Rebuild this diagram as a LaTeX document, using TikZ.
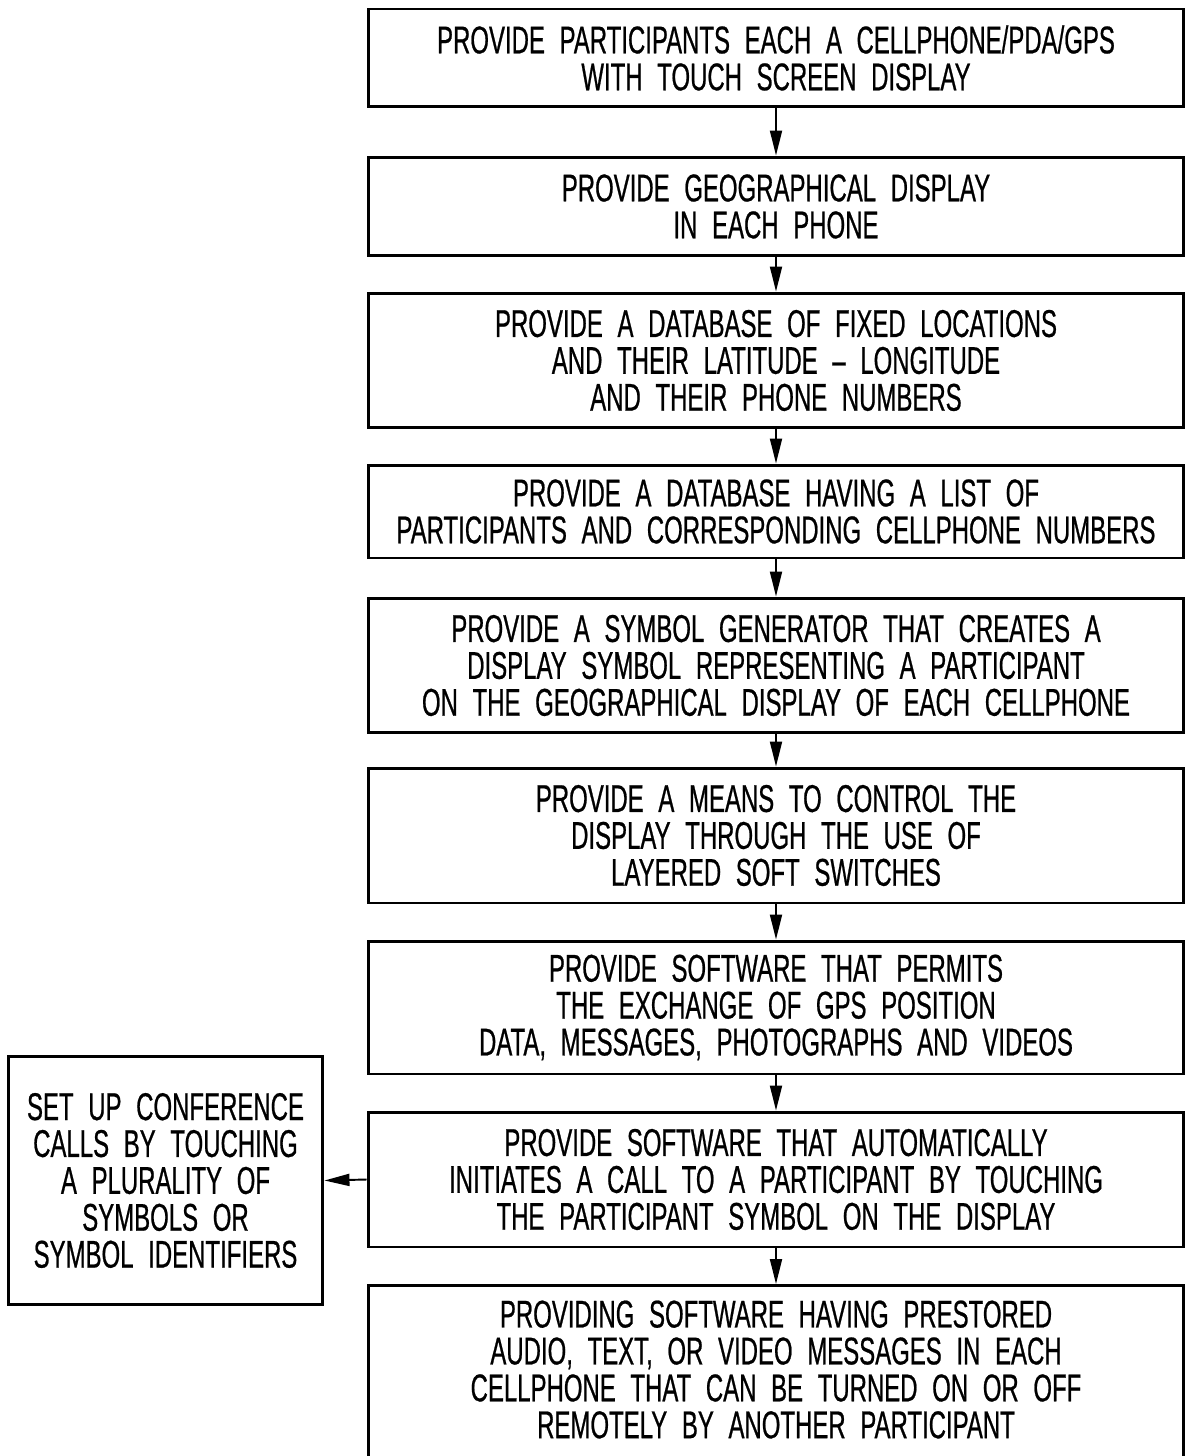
\documentclass[tikz,border=0pt]{standalone}
\usepackage{fontspec}
\setmainfont[FakeStretch=0.62,WordSpace=2.2,FakeBold=0.6]{Liberation Sans}
\usetikzlibrary{arrows.meta, positioning}

\tikzset{
  stepbox/.style={draw, line width=1.7pt, minimum width=16.32cm, align=center,
    inner sep=0pt, font=\fontsize{22}{21}\selectfont},
  sidebox/.style={stepbox, minimum width=6.3cm},
  flow/.style={-{Triangle[length=0.5cm,width=0.24cm]}, line width=1.1pt}
}

\begin{document}
\begin{tikzpicture}[x=0.02cm, y=-0.02cm]

\useasboundingbox (0,0) rectangle (1187,1456);

\node[stepbox, minimum height=1.96cm] (phones) at (776,58)
  {PROVIDE PARTICIPANTS EACH A CELLPHONE/PDA/GPS\\WITH TOUCH SCREEN DISPLAY};
\node[stepbox, minimum height=1.98cm] (geo) at (776,206.5)
  {PROVIDE GEOGRAPHICAL DISPLAY\\IN EACH PHONE};
\node[stepbox, minimum height=2.7cm] (fixed) at (776,360.5)
  {PROVIDE A DATABASE OF FIXED LOCATIONS\\AND THEIR LATITUDE – LONGITUDE\\AND THEIR PHONE NUMBERS};
\node[stepbox, minimum height=1.86cm] (list) at (776,511.5)
  {PROVIDE A DATABASE HAVING A LIST OF\\PARTICIPANTS AND CORRESPONDING CELLPHONE NUMBERS};
\node[stepbox, minimum height=2.7cm] (symbol) at (776,665.5)
  {PROVIDE A SYMBOL GENERATOR THAT CREATES A\\DISPLAY SYMBOL REPRESENTING A PARTICIPANT\\ON THE GEOGRAPHICAL DISPLAY OF EACH CELLPHONE};
\node[stepbox, minimum height=2.7cm] (switches) at (776,835.5)
  {PROVIDE A MEANS TO CONTROL THE\\DISPLAY THROUGH THE USE OF\\LAYERED SOFT SWITCHES};
\node[stepbox, minimum height=2.66cm] (exchange) at (776,1007.5)
  {PROVIDE SOFTWARE THAT PERMITS\\THE EXCHANGE OF GPS POSITION\\DATA, MESSAGES, PHOTOGRAPHS AND VIDEOS};
\node[stepbox, minimum height=2.7cm] (autocall) at (776,1179.5)
  {PROVIDE SOFTWARE THAT AUTOMATICALLY\\INITIATES A CALL TO A PARTICIPANT BY TOUCHING\\THE PARTICIPANT SYMBOL ON THE DISPLAY};
\node[stepbox, anchor=north, inner ysep=0.3cm, text depth=4cm] (prestored) at (776,1284)
  {PROVIDING SOFTWARE HAVING PRESTORED\\AUDIO, TEXT, OR VIDEO MESSAGES IN EACH\\CELLPHONE THAT CAN BE TURNED ON OR OFF\\REMOTELY BY ANOTHER PARTICIPANT};

\node[sidebox, minimum height=4.98cm] (conference) at (165.5,1180.5)
  {SET UP CONFERENCE\\CALLS BY TOUCHING\\A PLURALITY OF\\SYMBOLS OR\\SYMBOL IDENTIFIERS};

\draw[flow] (phones) -- (geo);
\draw[flow] (geo) -- (fixed);
\draw[flow] (fixed) -- (list);
\draw[flow] (list) -- (symbol);
\draw[flow] (symbol) -- (switches);
\draw[flow] (switches) -- (exchange);
\draw[flow] (exchange) -- (autocall);
\draw[flow] (autocall) -- (prestored.north);
\draw[flow] (autocall.west) -- (conference.east);

\end{tikzpicture}
\end{document}
